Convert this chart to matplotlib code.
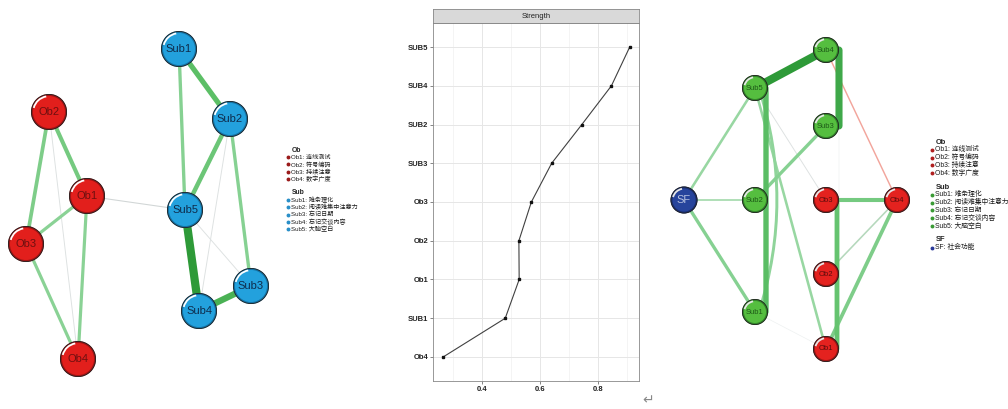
import numpy as np
import matplotlib
matplotlib.use("Agg")
import matplotlib.pyplot as plt
from matplotlib.patches import Circle, Arc, FancyArrowPatch
from matplotlib.colors import LinearSegmentedColormap

plt.rcParams['font.family'] = ['Liberation Sans', 'Noto Sans CJK SC', 'DejaVu Sans']

# ---- left network (layout in pixel units, y up) ----
left_nodes = ['Sub1', 'Sub2', 'Sub5', 'Sub3', 'Sub4', 'Ob2', 'Ob1', 'Ob3', 'Ob4']
left_x = [179, 230, 185, 251, 199, 49, 87, 26, 78]
left_y = [360, 290, 199, 123, 98, 297, 213, 165, 50]
left_edges = [('Sub5', 'Sub4', 1.0), ('Sub4', 'Sub3', 0.75), ('Sub1', 'Sub2', 0.6),
              ('Sub2', 'Sub5', 0.5), ('Ob2', 'Ob1', 0.45), ('Ob2', 'Ob3', 0.4),
              ('Sub1', 'Sub5', 0.35), ('Sub2', 'Sub3', 0.35), ('Ob1', 'Ob3', 0.33),
              ('Ob1', 'Ob4', 0.33), ('Ob3', 'Ob4', 0.33), ('Sub2', 'Sub4', 0.03),
              ('Sub5', 'Sub3', 0.03), ('Ob1', 'Sub5', 0.05), ('Ob2', 'Ob4', 0.03)]

# ---- right network ----
right_nodes = ['Sub4', 'Sub5', 'Sub3', 'SF', 'Sub2', 'Ob3', 'Ob4', 'Ob2', 'Sub1', 'Ob1']
right_x = [826, 755, 826, 684, 755, 826, 897, 826, 755, 826]
right_y = [359, 321, 283, 209, 209, 209, 209, 135, 97, 60]
# (from, to, weight, curvature, side offset)
right_edges = [('Sub5', 'Sub4', 1.0, 0, 0), ('Sub4', 'Sub3', 0.85, 0, 13),
               ('Sub5', 'Sub1', 0.62, 0, 11), ('Sub5', 'Sub1', 0.3, -0.16, 4),
               ('Sub3', 'Sub2', 0.35, 0, 0), ('SF', 'Sub5', 0.25, 0, 0),
               ('SF', 'Sub2', 0.15, 0, 0), ('SF', 'Sub1', 0.35, 0, 0),
               ('Sub5', 'Ob1', 0.25, 0, 0), ('Sub5', 'Ob3', 0.03, 0, 0),
               ('Ob3', 'Ob4', 0.45, 0, 0), ('Ob3', 'Ob1', 0.55, 0, 11),
               ('Ob4', 'Ob1', 0.4, 0, 0), ('Ob4', 'Ob2', 0.12, 0, 0),
               ('Sub3', 'Ob3', 0.0, 0, 13), ('Sub1', 'Ob1', 0.0, 0, 0)]
right_neg_edges = [('Sub4', 'Ob4', 0.15)]

# ---- centrality ----
strength_labels = ['Ob4', 'SUB1', 'Ob1', 'Ob2', 'Ob3', 'SUB3', 'SUB2', 'SUB4', 'SUB5']
strength_vals = [0.266, 0.480, 0.528, 0.527, 0.570, 0.640, 0.744, 0.846, 0.909]

# ---- legends ----
ob_items = ['Ob1: 连线测试', 'Ob2: 符号编码', 'Ob3: 持续注意', 'Ob4: 数字广度']
sub_items = ['Sub1: 难条理化', 'Sub2: 阅读难集中注意力', 'Sub3: 忘记日期',
             'Sub4: 忘记交谈内容', 'Sub5: 大脑空白']
sf_items = ['SF: 社会功能']

edge_cmap = LinearSegmentedColormap.from_list(
    'edge', [(0, '#EEF1F1'), (0.06, '#C9CECE'), (0.15, '#AADDB2'), (0.35, '#86D192'),
             (0.6, '#5CBF66'), (1.0, '#2E9A38')])

fig = plt.figure(figsize=(10.08, 4.09), dpi=100)
bg = fig.add_axes([0, 0, 1, 1])
bg.set_xlim(0, 1008)
bg.set_ylim(0, 409)
bg.axis('off')


def px2pt(p):
    return p * 0.72


def draw_network(pos, edges, neg_edges, styles, radius, arc_col):
    for e in edges:
        a, b, w = e[0], e[1], e[2]
        rad = e[3] if len(e) > 3 else 0
        off = e[4] if len(e) > 4 else 0
        (x1, y1), (x2, y2) = pos[a], pos[b]
        L = np.hypot(x2 - x1, y2 - y1)
        nx, ny = -(y2 - y1) / L, (x2 - x1) / L
        p1 = (x1 + off * nx, y1 + off * ny)
        p2 = (x2 + off * nx, y2 + off * ny)
        lw = px2pt(0.7 + 7.5 * w)
        patch = FancyArrowPatch(p1, p2, arrowstyle='-', shrinkA=0, shrinkB=0,
                                connectionstyle='arc3,rad=%s' % rad,
                                lw=lw, color=edge_cmap(w), zorder=1 + w)
        bg.add_patch(patch)
    for a, b, w in neg_edges:
        bg.plot([pos[a][0], pos[b][0]], [pos[a][1], pos[b][1]],
                color='#F2A59C', lw=px2pt(0.7 + 5 * w), zorder=1)
    for name, (x, y) in pos.items():
        fc, ring, tc, fs = styles(name)
        r = radius(name)
        bg.add_patch(Circle((x, y), r, facecolor=fc, edgecolor=ring, lw=1.4, zorder=5))
        bg.add_patch(Circle((x, y), r + 0.6, facecolor='none', edgecolor='#222222',
                            lw=0.6, zorder=6))
        bg.add_patch(Arc((x, y), 2 * (r - 1.2), 2 * (r - 1.2), theta1=100, theta2=165,
                         color=arc_col, lw=1.3, zorder=7))
        bg.text(x, y, name, ha='center', va='center', fontsize=fs, color=tc, zorder=8)


def left_style(n):
    if n.startswith('Ob'):
        return '#E21F1C', '#A01414', '#6E1010', 8
    return '#23A1DD', '#1373A6', '#0E2C4C', 8


def right_style(n):
    if n == 'SF':
        return '#27449C', '#1A2E70', '#B8C2E0', 8
    if n.startswith('Ob'):
        return '#E4221F', '#A01414', '#5A0C0C', 5.5
    return '#55BE3F', '#33862A', '#1E5A18', 5.5


left_pos = dict(zip(left_nodes, zip(left_x, left_y)))
right_pos = dict(zip(right_nodes, zip(right_x, right_y)))
draw_network(left_pos, left_edges, [], left_style, lambda n: 17, 'white')
draw_network(right_pos, right_edges, right_neg_edges, right_style,
             lambda n: 12.5 if n == 'SF' else 12, '#E8E8E8')


def draw_legend(x, y, groups, bullet_cols, fs, step, gap):
    for (title, items), bc in zip(groups, bullet_cols):
        bg.text(x + 4, y, title, fontsize=fs + 0.5, fontweight='bold', va='center',
                color='#222222')
        y -= step
        for it in items:
            bg.plot(x, y, 'o', ms=1.8, color=bc)
            bg.text(x + 3, y, it, fontsize=fs, va='center', color='#1A1A1A')
            y -= step
        y -= gap


draw_legend(288, 409 - 150, [('Ob', ob_items), ('Sub', sub_items)],
            ['#9A1B1B', '#2A8FC8'], 4.4, 7.2, 7)
draw_legend(932, 409 - 142, [('Ob', ob_items), ('Sub', sub_items), ('SF', sf_items)],
            ['#B02020', '#3A9A35', '#2A3A9A'], 4.9, 7.8, 6)

# ---- middle strength plot ----
ax = fig.add_axes([433 / 1008, 28 / 409, 206 / 1008, 358 / 409])
ypos = np.arange(1, len(strength_labels) + 1)
ax.plot(strength_vals, ypos, color='#404040', lw=0.8, zorder=3)
ax.plot(strength_vals, ypos, 's', ms=1.8, color='#111111', zorder=4)
ax.set_xlim(0.231, 0.941)
ax.set_ylim(0.38, 9.62)
ax.set_yticks(ypos)
ax.set_yticklabels(strength_labels)
ax.set_xticks([0.4, 0.6, 0.8])
ax.set_xticklabels(['0.4', '0.6', '0.8'])
ax.set_xticks([0.3, 0.5, 0.7, 0.9], minor=True)
ax.grid(True, which='major', color='#E6E6E6', lw=0.7)
ax.grid(True, which='minor', axis='x', color='#F0F0F0', lw=0.5)
ax.set_axisbelow(True)
ax.tick_params(axis='both', which='major', labelsize=5.5, length=2, width=0.5,
               colors='#555555', labelcolor='#222222', pad=1.5)
ax.tick_params(axis='x', which='minor', length=0)
for lab in ax.get_yticklabels() + ax.get_xticklabels():
    lab.set_fontweight('bold')
for s in ax.spines.values():
    s.set_color('#888888')
    s.set_linewidth(0.6)

strip = fig.add_axes([433 / 1008, 386 / 409, 206 / 1008, 14 / 409])
strip.set_facecolor('#D9D9D9')
strip.set_xticks([])
strip.set_yticks([])
for s in strip.spines.values():
    s.set_color('#888888')
    s.set_linewidth(0.6)
strip.text(0.5, 0.5, 'Strength', ha='center', va='center', fontsize=5.5,
           color='#222222', transform=strip.transAxes)

bg.text(648, 409 - 400, '\u21b5', ha='center', va='center', fontsize=10,
        color='#888888', family='DejaVu Sans')

fig.savefig('out.png', dpi=100)
